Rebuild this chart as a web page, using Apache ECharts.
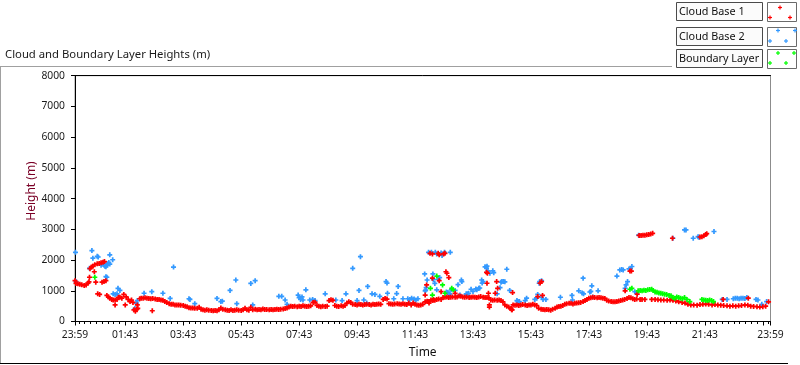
<!DOCTYPE html>
<html><head><meta charset="utf-8">
<script src="https://cdn.jsdelivr.net/npm/echarts@6/dist/echarts.min.js"></script>
<style>html,body{margin:0;padding:0;background:#fff}#c{width:800px;height:365px}</style>
</head><body><div id="c"></div>
<script>
// x values are minutes after the 23:59 start of the record
const xTickMinutes = [0,104,224,344,464,584,704,824,944,1064,1184,1304,1440];
const xTickLabels = ['23:59','01:43','03:43','05:43','07:43','09:43','11:43','13:43','15:43','17:43','19:43','21:43','23:59'];
const xMajorTicks = [0,104,224,344,464,584,704,824,944,1064,1184,1304,1424,1440];
const legendNames = ['Cloud Base 1','Cloud Base 2','Boundary Layer'];
const seriesColors = ['#ff0000','#3399ff','#00ff00'];

const cloudBase1 = [
[0,1330],[2,1240],[6,1230],[10,1210],[14,1200],[19,1170],[23,1190],[27,1250],[29,1290],[30,1440],
[31,1720],[34,1770],[37,1800],[40,1620],[41,1850],[43,1280],[46,1880],[47,900],[50,1890],[51,880],[54,1910],[56,1280],[58,1930],[60,1300],[61,1950],[64,1330],
[66,850],[69,800],[72,760],[76,720],[79,700],[83,700],[83,540],[87,720],[90,790],[93,790],[97,760],[101,880],[104,540],[106,800],[110,720],[114,650],[117,700],[120,620],[122,380],[125,330],[128,400],[129,540],[130,430],
[134,740],[137,760],[141,760],[145,770],[149,760],[153,750],[157,740],[160,350],[161,750],[166,730],[170,720],[174,720],[178,700],[182,690],[186,650],[190,620],[195,580],[199,560],[203,560],[207,540],[211,540],[215,540],[219,530],[224,520],[228,500],[232,480],[236,450],[240,440],[244,440],[248,430],[253,430],[257,460],[261,400],[265,380],[269,370],[273,380],[277,370],[282,360],[286,350],[290,360],[294,350],[298,380],[302,440],[306,400],[311,380],[315,370],[319,360],[323,380],[327,360],[331,370],[335,380],[339,370],[344,360],[348,380],[352,430],[356,380],[360,370],[364,460],[368,380],[373,400],[377,380],[381,390],[385,380],[389,410],[393,390],[397,390],[402,380],[406,390],[410,380],[414,390],[418,400],[422,390],[426,400],[431,410],[435,420],[439,440],[443,470],[447,500],[451,490],[455,500],[460,480],[464,500],[468,490],[472,510],[476,500],[480,490],[484,500],[488,510],[493,620],[497,630],[501,520],[505,500],[509,480],[513,500],[518,490],[522,500],[526,680],[530,710],[534,690],[538,520],[542,500],[546,490],[551,510],[555,500],[559,520],[563,600],[567,640],[571,620],[575,560],[580,550],[584,540],[588,560],[592,550],[596,540],[600,550],[604,560],[609,550],[613,540],[617,560],[621,550],[625,560],[629,570],[633,560],[638,720],[642,750],[646,730],[650,580],[654,570],[658,560],[662,570],[667,580],[671,570],[675,560],[679,580],[683,560],[687,550],[691,600],[696,540],[700,600],[704,560],[708,540],[712,530],[716,540],[720,560],[725,640],[729,660],[733,650],[737,700],[741,680],[745,690],[749,720],[753,730],[758,720],[762,780],[766,790],[770,800],[774,780],[778,790],[782,800],[787,790],[791,800],[795,830],[799,820],[803,800],[807,790],[811,800],[816,780],[820,790],[824,800],[828,790],[832,780],[836,800],[840,810],[845,790],[849,780],[853,780],[857,770],[861,700],[865,690],[869,700],[874,690],[878,700],[882,680],[886,640],[890,540],[894,500],[898,470],[903,420],[905,380],[907,540],[911,530],[915,540],[919,520],[923,540],[927,550],[932,540],[936,520],[940,540],[944,540],[948,560],[952,540],[956,520],[960,430],[965,400],[969,390],[973,380],[977,390],[981,380],[985,370],[989,400],[994,430],[998,470],[1002,490],[1006,500],[1010,520],[1014,560],[1018,580],[1023,590],[1027,590],[1031,570],[1035,590],[1039,600],[1043,610],[1047,620],[1052,650],[1056,680],[1060,720],[1064,760],[1068,770],[1072,790],[1076,780],[1081,770],[1085,780],[1089,770],[1093,760],[1097,750],[1101,690],[1105,670],[1110,650],[1114,640],[1118,640],[1122,650],[1126,670],[1130,680],[1134,700],[1138,720],[1143,750],[1147,780],[1151,770],[1155,740],[1159,720],[1163,730],[1170,720],[1174,720],[1180,720],[1194,720],[1201,720],[1207,710],[1213,700],[1219,700],[1226,690],[1232,700],[1238,690],[1244,670],[1250,640],[1257,620],[1263,600],[1269,560],[1275,540],[1281,540],[1288,530],[1294,550],[1300,560],[1306,570],[1312,560],[1319,540],[1325,550],[1331,540],[1337,530],[1343,520],[1350,510],[1356,500],[1362,510],[1368,500],[1374,510],[1380,520],[1387,540],[1393,530],[1399,500],[1405,490],[1412,480],[1418,470],[1424,480],[1430,500],[1436,640],
[735,2220],[740,2200],[752,2220],[754,2170],[763,2200],[766,2220],
[768,1620],[770,1570],[774,1430],[740,1410],[728,1190],[725,860],[754,1330],[758,970],[787,920],[742,720],[730,650],[733,600],
[852,1600],[854,1570],[853,1245],[856,920],[858,540],[858,470],[870,920],[873,1300],[875,1080],[906,940],[904,380],
[963,1250],[966,1300],[958,810],[968,850],
[1139,1000],[1149,1640],[1152,1640],[1164,890],
[1168,2800],[1172,2800],[1176,2810],[1180,2810],[1184,2820],[1188,2830],[1192,2850],[1196,2870],
[1237,2710],[1294,2750],[1298,2760],[1302,2790],[1306,2830],[1308,2860],
[1237,730],[1394,760],[1342,720]
];

const cloudBase2 = [
[1,2250],[2,1300],[30,1730],[35,2310],[37,2060],[46,2120],[48,2100],
[54,1830],[56,1870],[58,1900],[60,1850],[62,1800],[64,1780],[66,1830],[68,1880],[70,1920],[72,1870],[64,1460],[66,1440],[72,2170],[78,2010],
[79,900],[83,880],[87,900],[89,1080],[93,1010],
[124,420],[127,600],[129,680],[143,920],[159,970],[182,920],[197,750],[204,1770],[236,740],[238,720],[248,580],[294,750],[302,650],[305,660],[321,1010],[333,1350],[335,580],[364,1240],[368,540],[373,1330],[422,820],
[428,820],[435,700],[439,560],[462,860],[464,780],[467,720],[470,800],[472,700],[478,1030],[486,700],[492,720],[497,680],[518,900],[540,700],[553,680],[561,900],[575,1730],[584,680],[588,1010],[591,2110],[598,700],[604,600],[606,1140],[615,900],[621,880],[631,820],[644,1300],[646,1250],[647,920],[660,740],[666,910],[669,1140],[679,740],[689,740],[693,720],[697,760],[702,730],[706,700],[710,740],
[724,1550],[725,1000],[726,1020],[727,1100],[729,1350],[741,1550],[742,1360],[745,1240],[749,1030],[752,1375],[755,1430],
[732,2250],[738,2250],[746,2250],[749,2200],[758,2230],[760,2150],[765,2250],[777,2250],
[769,960],[772,940],[776,900],[777,820],[779,1030],[787,1010],[793,1200],[797,860],[800,1350],[801,1300],[810,900],[813,900],[811,860],[815,920],[820,1050],[824,980],[830,1060],[832,1030],[836,1080],[838,1090],[842,1350],[843,1250],[845,1300],[849,1780],[852,1740],[853,1800],[855,1650],[859,1570],[865,1650],[867,1590],[874,900],[880,1100],[882,1280],[884,1300],[887,1300],[890,1290],[894,1700],[900,1010],[915,680],[917,650],[920,650],[932,680],[935,760],[952,720],[956,760],[958,880],[961,1245],[962,1300],[966,1330],[966,790],[969,720],[975,720],
[1005,790],[1029,850],[1030,700],[1043,1000],[1050,930],[1052,1410],[1053,900],[1066,960],[1068,980],[1070,1160],[1072,800],[1083,1000],
[1122,1480],[1128,1680],[1132,1690],[1135,1680],[1139,1080],[1141,1190],[1144,1300],[1147,1710],[1150,1720],[1153,1790],[1159,970],[1163,930],
[1167,2810],[1238,2710],[1262,2980],[1265,2980],[1280,2710],[1290,2760],[1292,2740],[1323,2930],
[1340,720],[1350,720],[1363,740],[1367,760],[1371,760],[1375,740],[1379,760],[1383,760],[1387,750],[1391,780],[1410,720],[1414,700],[1422,560],[1432,650]
];

const boundaryLayer = [
[41,1440],
[736,1080],[740,860],[749,1480],[761,1190],[766,920],[780,1080],[783,1030],
[1149,1050],[1153,1080],[1166,1000],[1170,1010],[1174,1000],[1178,1020],[1182,1010],[1186,1030],[1190,1040],[1194,1050],[1197,1010],[1201,960],[1205,950],[1209,930],[1213,920],[1217,900],[1221,890],[1225,880],[1230,850],[1234,840],[1238,780],[1242,760],[1246,800],[1250,780],[1254,760],[1258,740],[1262,780],[1267,720],[1273,650],[1298,720],[1302,700],[1306,690],[1310,680],[1314,700],[1318,680],[1322,650]
];

// minor ticks every 12 minutes, aligned with the 2-hour major ticks
const minorTicks = [];
for (let m = 8; m < 1440; m += 12) { if (xMajorTicks.indexOf(m) < 0) minorTicks.push(m); }

const FONT = '"Noto Sans", "DejaVu Sans", sans-serif';
const PLUS = 'path://M3.3,0H6.7V3.3H10V6.7H6.7V10H3.3V6.7H0V3.3H3.3Z';

function plusMark(x, y, color) {
  return { type: 'group', x: x, y: y, children: [
    { type: 'rect', shape: { x: -2, y: -0.6, width: 4, height: 1.2 }, style: { fill: color } },
    { type: 'rect', shape: { x: -0.6, y: -2, width: 1.2, height: 4 }, style: { fill: color } }
  ]};
}
const legendRowTop = [3, 28, 50];
const legendMarks = [
  [[12.5,4.5],[2.5,14.5],[22.5,14.5]],
  [[10.5,2.5],[27.5,2.5],[2.5,13],[18.5,13]],
  [[10.5,3],[26.5,3],[2.5,13],[18.5,13]]
];
const graphics = [
  { type: 'line', shape: { x1: 0, y1: 66.5, x2: 672, y2: 66.5 }, style: { stroke: '#a0a0a0', lineWidth: 1 } },
  { type: 'line', shape: { x1: 0.5, y1: 66, x2: 0.5, y2: 364 }, style: { stroke: '#a0a0a0', lineWidth: 1 } },
  { type: 'line', shape: { x1: 0, y1: 363.5, x2: 788, y2: 363.5 }, style: { stroke: '#000', lineWidth: 1 } },
  { type: 'text', x: 31.5, y: 191, rotation: Math.PI / 2,
    style: { text: 'Height (m)', fill: '#7a0026', font: '12px ' + FONT, align: 'center', verticalAlign: 'middle' } }
];
legendNames.forEach(function (nm, i) {
  const top = legendRowTop[i];
  graphics.push({ type: 'rect', shape: { x: 676.5, y: top - 0.5, width: 86, height: 18 },
    style: { fill: '#fbfbfb', stroke: '#4a4a4a', lineWidth: 1 } });
  graphics.push({ type: 'text', x: 679, y: top + 8.5,
    style: { text: nm, fill: '#111', font: '10.8px ' + FONT, align: 'left', verticalAlign: 'middle' } });
  graphics.push({ type: 'rect', shape: { x: 767.5, y: top - 0.5, width: 29, height: 19 },
    style: { fill: '#fff', stroke: '#6a6a6a', lineWidth: 1 } });
  legendMarks[i].forEach(function (p) { graphics.push(plusMark(767.5 + p[0], top + p[1], seriesColors[i])); });
});

const chart = echarts.init(document.getElementById('c'), null, { renderer: 'canvas' });
chart.setOption({
  animation: false,
  backgroundColor: '#fff',
  title: { text: 'Cloud and Boundary Layer Heights (m)', left: 0, top: 44,
    textStyle: { fontSize: 11.3, fontWeight: 'normal', color: '#1a1a1a', fontFamily: FONT } },
  grid: { left: 75, right: 29.5, top: 75.7, bottom: 43.5, show: true, borderColor: '#8c8c8c', borderWidth: 1, backgroundColor: '#fff' },
  xAxis: [
    { type: 'value', min: 0, max: 1440, position: 'bottom', offset: 1.5,
      axisLine: { lineStyle: { color: '#000', width: 1 } },
      axisTick: { customValues: xMajorTicks, length: 4, lineStyle: { color: '#000' } },
      axisLabel: { customValues: xTickMinutes, formatter: function (v) { return xTickLabels[xTickMinutes.indexOf(v)]; },
        fontSize: 10.3, color: '#1a1a1a', margin: 7, fontFamily: FONT },
      splitLine: { show: false },
      name: 'Time', nameLocation: 'middle', nameGap: 24,
      nameTextStyle: { fontSize: 12, color: '#111', fontFamily: FONT } },
    { type: 'value', min: 0, max: 1440, position: 'bottom', offset: 1.5,
      axisLine: { show: false }, axisTick: { customValues: minorTicks, length: 2.5, lineStyle: { color: '#000' } },
      axisLabel: { show: false }, splitLine: { show: false } },
    { type: 'value', min: 0, max: 1440, position: 'top',
      axisLine: { lineStyle: { color: '#000', width: 1 } }, axisTick: { show: false }, axisLabel: { show: false }, splitLine: { show: false } }
  ],
  yAxis: [
    { type: 'value', min: 0, max: 8000, interval: 1000, position: 'left', offset: 3,
      axisLine: { show: false }, axisTick: { show: true, length: 4, lineStyle: { color: '#000' } },
      axisLabel: { fontSize: 10.3, color: '#1a1a1a', margin: 7, fontFamily: FONT, formatter: function (v) { return String(v); } },
      splitLine: { show: false } },
    { type: 'value', min: 0, max: 8000, interval: 1000, position: 'left',
      axisLine: { show: true, lineStyle: { color: '#000', width: 1 } }, axisTick: { show: false }, axisLabel: { show: false }, splitLine: { show: false } }
  ],
  series: [
    { type: 'scatter', name: legendNames[1], data: cloudBase2, symbol: PLUS, symbolSize: 5, itemStyle: { color: seriesColors[1], opacity: 1 }, silent: true },
    { type: 'scatter', name: legendNames[0], data: cloudBase1, symbol: PLUS, symbolSize: 5, itemStyle: { color: seriesColors[0], opacity: 1 }, silent: true },
    { type: 'scatter', name: legendNames[2], data: boundaryLayer, symbol: PLUS, symbolSize: 5, itemStyle: { color: seriesColors[2], opacity: 1 }, silent: true }
  ],
  graphic: graphics
});
</script></body></html>
